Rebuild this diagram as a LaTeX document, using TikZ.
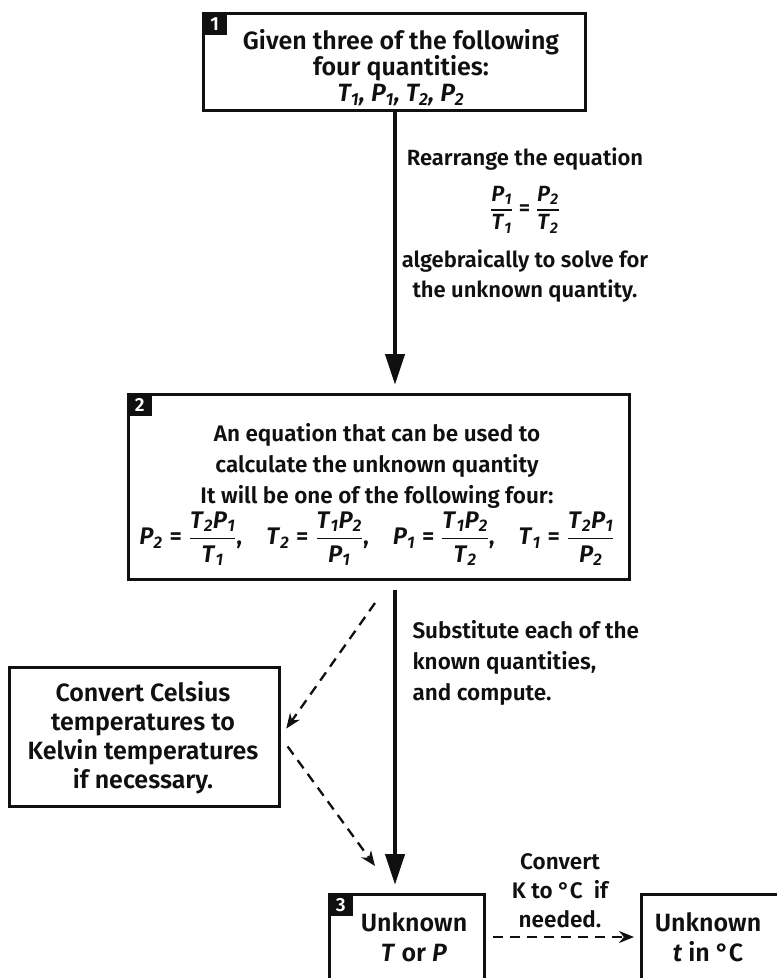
\documentclass[tikz,border=0pt]{standalone}
\usepackage{amsmath}
\usepackage{fontspec}
\setmainfont{Fira Sans}[BoldFont={Fira Sans SemiBold},BoldItalicFont={Fira Sans SemiBold Italic}]
\usetikzlibrary{positioning,arrows.meta}
\definecolor{Ink}{HTML}{101010}
\newcommand{\qv}[2]{\textit{#1}\textsubscript{\textit{#2}}}
\newcommand{\qfr}[2]{\genfrac{}{}{1.3pt}{0}{\text{#1}}{\text{#2}}}
\newcommand{\qeq}[3]{\ensuremath{\text{#1}\mathrel{\text{=}}\qfr{#2}{#3}}}
\newcommand{\fs}[2]{\fontsize{#1}{#2}\selectfont}

\begin{document}
\begin{tikzpicture}[
      x=1pt, y=-1pt,
      every node/.style={font=\fs{22.5}{31}\bfseries, text=Ink},
      frame/.style={draw=Ink, line width=2.5pt, inner sep=0pt},
      tag/.style={fill=Ink, text=white, minimum width=25pt, minimum height=23pt, inner sep=0pt, anchor=north west, font=\fs{19}{19}\bfseries},
      flow/.style={draw=Ink, line width=4.4pt, -{Triangle[length=31pt,width=19pt]}},
      maybe/.style={draw=Ink, line width=2.3pt, dash pattern=on 10pt off 7pt, -{Stealth[length=15pt,width=12pt]}}
    ]
    \useasboundingbox (0,0) rectangle (777,978);
    \clip (0,0) rectangle (777,978);

    % boxes
    \node[frame, minimum width=382pt, minimum height=97pt, anchor=north west] (given) at (202,12) {};
    \node[frame, minimum width=501pt, minimum height=185pt, anchor=north west] (eqn) at (127,393) {};
    \node[frame, minimum width=270pt, minimum height=139pt, anchor=north west] (kelvin) at (8,666) {};
    \node[frame, minimum width=155pt, minimum height=170pt, anchor=north west] (unk) at (328,893) {};
    \node[frame, minimum width=170pt, minimum height=170pt, anchor=north west] (unkt) at (640,893) {};

    % step tags
    \node[tag] (tag1) at (given.north west) {1};
    \node[tag] (tag2) at (eqn.north west) {2};
    \node[tag] (tag3) at (unk.north west) {3};

    % box texts
    \node[align=center, font=\fs{25}{26}\bfseries] (giventxt) at (401,68) {Given three of the following\\four quantities:\\\textit{\qv{T}{1}, \qv{P}{1}, \qv{T}{2}, \qv{P}{2}}};
    \node[align=center, anchor=north] (eqntxt) at (377,420) {An equation that can be used to\\calculate the unknown quantity\\It will be one of the following four:\\[2pt]
      \fs{24}{30}\qeq{\qv{P}{2}}{\qv{T}{2}\qv{P}{1}}{\qv{T}{1}},\quad
      \qeq{\qv{T}{2}}{\qv{T}{1}\qv{P}{2}}{\qv{P}{1}},\quad
      \qeq{\qv{P}{1}}{\qv{T}{1}\qv{P}{2}}{\qv{T}{2}},\quad
      \qeq{\qv{T}{1}}{\qv{T}{2}\qv{P}{1}}{\qv{P}{2}}};
    \node[align=center, font=\fs{25}{29}\bfseries] (kelvintxt) at (143,738) {Convert Celsius\\temperatures to\\Kelvin temperatures\\if necessary.};
    \node[align=center, font=\fs{25}{30}\bfseries] (unktxt) at (414,937) {Unknown\\\textit{T} or \textit{P}};
    \node[align=center, font=\fs{25}{30}\bfseries] (unkttxt) at (708,937) {Unknown\\\textit{t} in °C};

    % side notes
    \node[align=center, anchor=north, font=\fs{22}{30}\bfseries] (rearr) at (525,144) {Rearrange the equation\\[15pt]
      \ensuremath{\qfr{\qv{P}{1}}{\qv{T}{1}}\mathrel{\text{=}}\qfr{\qv{P}{2}}{\qv{T}{2}}}\\[16pt]
      algebraically to solve for\\the unknown quantity.};
    \node[align=left, anchor=north west] (subst) at (409,617) {Substitute each of the\\known quantities,\\and compute.};
    \node[align=center, font=\fs{22.5}{29}\bfseries] (ktoc) at (560,891) {Convert\\K to °C\ \ if\\needed.};

    \coordinate (fork) at (375,603);
    \coordinate (merge) at (375,866);

    % connectors
    \draw[flow, shorten >=8pt] (given.south -| 395,0) -- (eqn.north -| 395,0);
    \draw[flow, shorten <=9pt, shorten >=8pt] (eqn.south -| 395,0) -- (unk.north -| 395,0);
    \draw[maybe, shorten >=10pt] (fork) -- (kelvin.east);
    \draw[maybe, shorten <=12pt] (kelvin.east) -- (merge);
    \draw[maybe, shorten <=7pt, shorten >=6pt] (unk.east |- 0,937) -- (unkt.west |- 0,937);
  \end{tikzpicture}
\end{document}
